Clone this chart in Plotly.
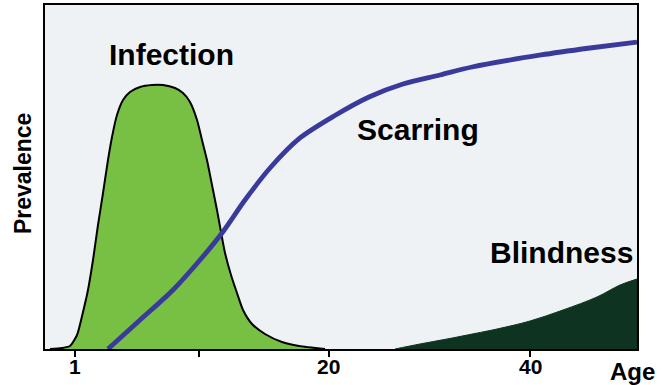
import plotly.graph_objects as go

# Schematic positions (x: 0-100 along age axis, y: 0-100 prevalence)
infection_x = [0.84, 2.87, 4.22, 5.41, 6.42, 7.26, 8.11, 8.95, 9.80, 10.64, 11.32, 12.16, 13.18, 14.36,
               16.05, 18.07, 19.93, 21.96, 23.31, 24.49, 25.68, 26.52, 27.36, 28.21, 29.05, 29.73,
               30.41, 31.42, 32.43, 33.45, 34.97, 37.16, 40.03, 42.91, 47.30]
infection_y = [0, 0.29, 0.87, 4.07, 10.76, 17.15, 25.87, 36.05, 45.35, 54.94, 61.63, 68.02, 72.38, 74.71,
               76.16, 76.74, 76.74, 75.87, 74.42, 71.80, 66.57, 60.76, 54.94, 47.67, 40.41, 34.01,
               27.91, 21.51, 16.28, 11.34, 7.27, 4.36, 2.03, 0.87, 0]

scarring_x = [10.64, 16.05, 21.62, 26.18, 29.90, 33.78, 38.01, 43.07, 48.82, 54.73, 60.47, 66.72,
              72.13, 83.78, 92.06, 100]
scarring_y = [0, 8.43, 17.15, 25.87, 33.72, 43.31, 52.62, 61.34, 67.73, 73.26, 77.03, 79.65,
              81.98, 85.47, 87.50, 89.24]

blindness_x = [59.12, 63.34, 67.91, 72.64, 76.35, 81.93, 87.50, 93.24, 97.13, 100]
blindness_y = [0, 1.45, 2.91, 4.51, 5.81, 8.14, 11.34, 15.12, 18.60, 20.35]

tick_positions = [5.07, 26.0, 47.97, 81.93]
tick_labels = ["1", "", "20", "40"]

FONT = "Arial, Liberation Sans, Helvetica, sans-serif"

fig = go.Figure()
fig.add_trace(go.Scatter(x=infection_x, y=infection_y, mode="lines", fill="tozeroy",
                         fillcolor="#78c043", line=dict(color="black", width=2, shape="spline", smoothing=0.6),
                         hoverinfo="skip"))
fig.add_trace(go.Scatter(x=blindness_x, y=blindness_y, mode="lines", fill="tozeroy",
                         fillcolor="#0e3320", line=dict(color="#0e3320", width=1, shape="spline", smoothing=1.0),
                         hoverinfo="skip"))
fig.add_trace(go.Scatter(x=scarring_x, y=scarring_y, mode="lines",
                         line=dict(color="#3a3a9c", width=4.8, shape="spline", smoothing=0.8),
                         hoverinfo="skip"))

label_font = dict(family=FONT, size=30, color="black", weight="bold")
fig.add_annotation(x=21.45, y=85.5, text="Infection", showarrow=False, font=label_font)
fig.add_annotation(x=63.0, y=63.8, text="Scarring", showarrow=False, font=label_font)
fig.add_annotation(x=87.3, y=28.0, text="Blindness", showarrow=False, font=label_font)
fig.add_annotation(x=0.993, y=-0.066, xref="paper", yref="paper", xanchor="center", yanchor="middle",
                   text="Age", showarrow=False,
                   font=dict(family=FONT, size=24, color="black", weight="bold"))
fig.add_annotation(x=-0.038, y=0.51, xref="paper", yref="paper", xanchor="center", yanchor="middle",
                   text="Prevalence", showarrow=False, textangle=-90,
                   font=dict(family=FONT, size=23, color="black", weight="bold"))

# tick labels placed under the axis ticks
for pos, lab in zip(tick_positions, tick_labels):
    if lab:
        fig.add_annotation(x=pos, y=-0.05, xref="x", yref="paper", xanchor="center", yanchor="middle",
                           text=lab, showarrow=False,
                           font=dict(family=FONT, size=21, color="black", weight="bold"))

fig.update_layout(
    width=669, height=385,
    margin=dict(l=45, r=32, t=5, b=36, autoexpand=False),
    paper_bgcolor="white", plot_bgcolor="#eff2f5",
    showlegend=False,
    xaxis=dict(range=[0, 100], tickmode="array", tickvals=tick_positions, ticktext=[""] * len(tick_positions),
               ticks="outside", ticklen=6, tickwidth=2, tickcolor="black",
               showline=True, linecolor="black", linewidth=2, mirror=True,
               showgrid=False, zeroline=False, automargin=False),
    yaxis=dict(range=[0, 100], showticklabels=False, ticks="", showline=True, linecolor="black",
               linewidth=2, mirror=True, showgrid=False, zeroline=False, automargin=False),
)

fig.write_html("out.html", config={"displayModeBar": False},
               post_script="document.body.style.margin='0';document.body.style.overflow='hidden';")
